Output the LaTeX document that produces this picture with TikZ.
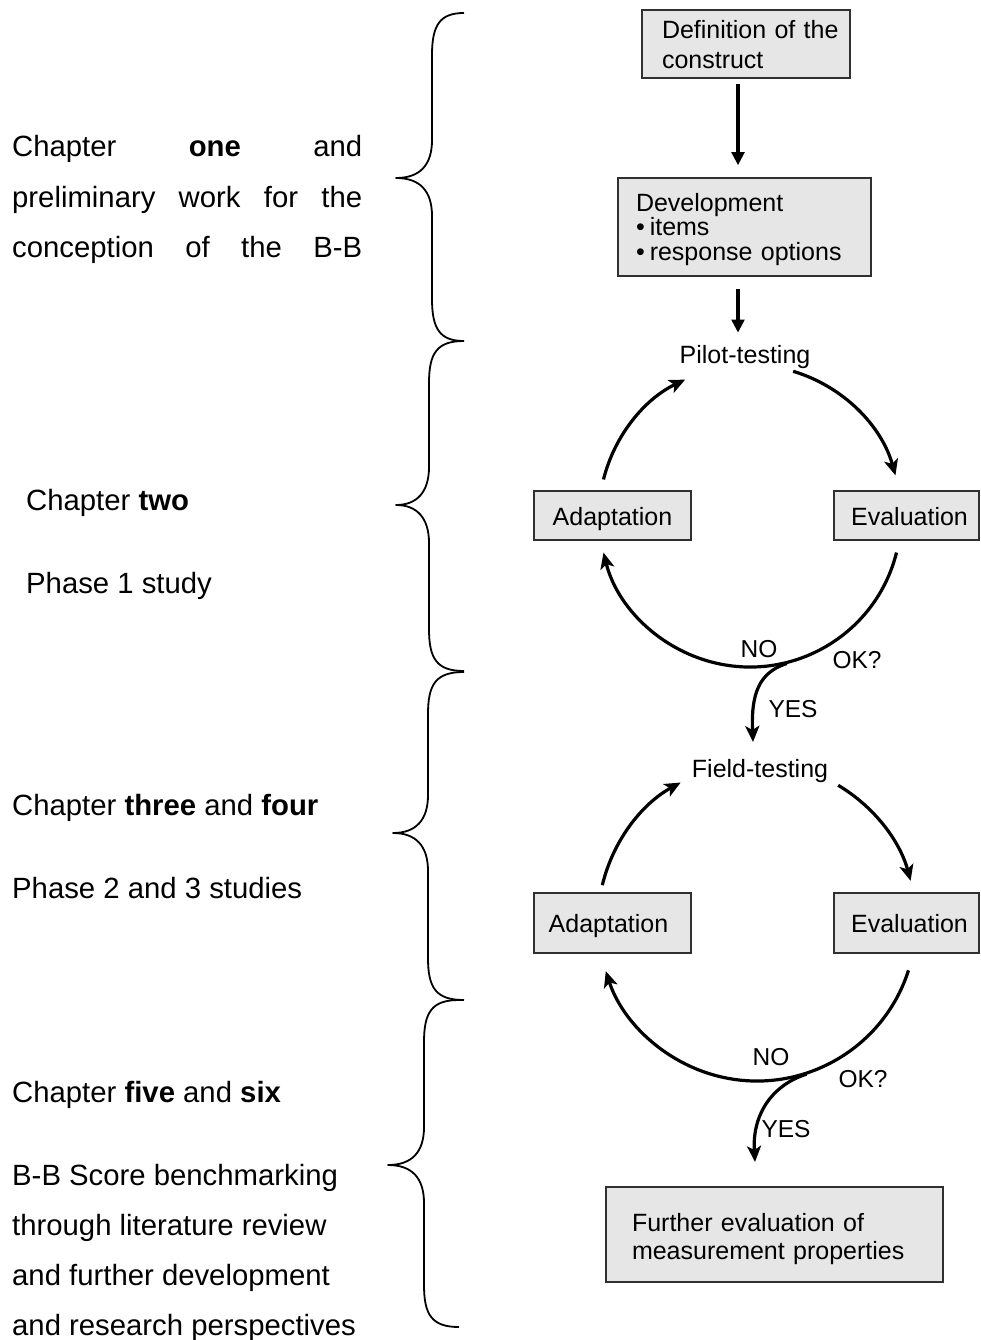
\documentclass[tikz,border=0pt]{standalone}
\usepackage{fontspec}
\setmainfont{Liberation Sans}
\usetikzlibrary{arrows.meta,calc}
\definecolor{boxfill}{HTML}{E6E6E6}
\definecolor{boxline}{HTML}{303030}
\newcommand{\mybrace}[6]{%
  \draw[brace] (#1,#4) .. controls ({#2+8},#4) and (#2,{#4+12}) .. (#2,{#4+42})
    -- (#2,{#5-38}) .. controls (#2,{#5-13}) and ({#2-12},#5) .. (#3,#5)
    .. controls ({#2-12},#5) and (#2,{#5+13}) .. (#2,{#5+38})
    -- (#2,{#6-42}) .. controls (#2,{#6-12}) and ({#2+8},#6) .. (#1,#6);}
\begin{document}
\begin{tikzpicture}[x=1pt,y=-1pt,
  box/.style={draw=boxline, line width=1.5pt, fill=boxfill, inner sep=0pt,
    font=\fontsize{25}{30}\selectfont},
  sbox/.style={box, text height=19pt, text depth=0pt},
  lbl/.style={inner sep=0pt, anchor=base, font=\fontsize{24.5}{28}\selectfont},
  side/.style={inner sep=0pt, anchor=base west, font=\fontsize{29.3}{35}\selectfont},
  brace/.style={line width=1.8pt, line join=round},
  flow/.style={line width=3.5pt, -{Triangle[length=13pt,width=12.5pt]}},
  loop/.style={line width=3.2pt, -{Stealth[length=16pt,width=14pt,inset=4pt]}},
]
\useasboundingbox (0,0) rectangle (980,1340);

% ---------- left column text ----------
\node[side] (t1a) at (12,157) {\hbox to 350pt{Chapter\hfill\textbf{one}\hfill and}};
\node[side] (t1b) at (12,208) {\hbox to 350pt{preliminary\hfill work\hfill for\hfill the}};
\node[side] (t1c) at (12,258) {\hbox to 350pt{conception\hfill of\hfill the\hfill B-B}};
\node[side] (t2a) at (26,510) {Chapter \textbf{two}};
\node[side] (t2b) at (26,593) {Phase 1 study};
\node[side] (t3a) at (12,815) {Chapter \textbf{three} and \textbf{four}};
\node[side] (t3b) at (12,898) {Phase 2 and 3 studies};
\node[side] (t4a) at (12,1102) {Chapter \textbf{five} and \textbf{six}};
\node[side] (t4b) at (12,1185) {B-B Score benchmarking};
\node[side] (t4c) at (12,1235) {through literature review};
\node[side] (t4d) at (12,1285) {and further development};
\node[side] (t4e) at (12,1335) {and research perspectives};

% ---------- braces ----------
\mybrace{464}{432}{396}{13}{178}{341}
\mybrace{464}{429}{396}{341}{505}{671}
\mybrace{464}{428}{393}{672}{833}{1000}
\mybrace{459}{424}{388}{1000}{1165}{1327}

% ---------- boxes ----------
\node[box, minimum width=208pt, minimum height=68pt, text width=168pt, align=left]
  (def) at (746,44) {\rule{0pt}{20pt}Definition~of~the\\construct};
\node[box, minimum width=253pt, minimum height=98pt, text width=217pt, align=left,
  font=\fontsize{25}{24.5}\selectfont]
  (dev) at (744.5,227) {\rule{0pt}{23pt}Development\\•\kern5pt items\\•\kern5pt response options};
\node[lbl, font=\fontsize{25}{30}\selectfont] (pilot) at (745,363) {Pilot-testing};
\node[sbox, minimum width=157pt, minimum height=49pt] (ad1) at (612.5,515.5) {Adaptation};
\node[sbox, minimum width=145pt, minimum height=49pt] (ev1) at (906.5,515.5) {\kern6pt Evaluation};
\node[lbl, font=\fontsize{25}{30}\selectfont] (field) at (760,777) {Field-testing};
\node[sbox, minimum width=157pt, minimum height=60pt] (ad2) at (612.5,923) {Adaptation\kern8pt};
\node[sbox, minimum width=145pt, minimum height=60pt] (ev2) at (906.5,923) {\kern6pt Evaluation};
\node[box, minimum width=337pt, minimum height=95pt, text width=285pt, align=left,
  font=\fontsize{25}{28}\selectfont]
  (fin) at (774.5,1234.5) {\rule{0pt}{28pt}Further evaluation of\\measurement properties};

% ---------- labels ----------
\node[lbl] (no1) at (759,657) {NO};
\node[lbl] (ok1) at (857,668) {OK?};
\node[lbl] (yes1) at (793,717) {YES};
\node[lbl] (no2) at (771,1065) {NO};
\node[lbl] (ok2) at (863,1087) {OK?};
\node[lbl] (yes2) at (786,1137) {YES};

% ---------- straight arrows ----------
\draw[flow, shorten <=5pt, shorten >=12pt] ([xshift=-8pt]def.south) -- ([xshift=-6.5pt]dev.north);
\draw[flow, shorten >=12pt] ([xshift=-6.5pt,yshift=-12pt]dev.south) -- ([xshift=-6.5pt]dev.south |- pilot.north);

% ---------- loop 1 ----------
\coordinate (c1) at (750,516);
\draw[loop] ($(c1)+(-166:151)$) arc[start angle=-166, end angle=-115.4, radius=151];
\draw[loop] ($(c1)+(-73.4:151)$) arc[start angle=-73.4, end angle=-15.6, radius=151];
\draw[loop] ($(c1)+(14:151)$) arc[start angle=14, end angle=166, radius=151];
\coordinate (y1s) at ($(c1)+(76:152)$);
\coordinate (y1e) at (753,742);
\draw[loop] (y1s) .. controls ($(y1s)+(-28,9)$) and ($(y1e)+(-2,-48)$) .. (y1e);

% ---------- loop 2 ----------
\coordinate (c2) at (757,922);
\draw[loop] ($(c2)+(-166.6:159)$) arc[start angle=-166.6, end angle=-118.7, radius=159];
\draw[loop] ($(c2)+(-59.3:159)$) arc[start angle=-59.3, end angle=-15, radius=159];
\draw[loop] ($(c2)+(17.7:159)$) arc[start angle=17.7, end angle=162, radius=159];
\coordinate (y2s) at ($(c2)+(72:160)$);
\coordinate (y2e) at (755,1162);
\draw[loop] (y2s) .. controls ($(y2s)+(-32,10)$) and ($(y2e)+(-3,-50)$) .. (y2e);
\end{tikzpicture}
\end{document}
